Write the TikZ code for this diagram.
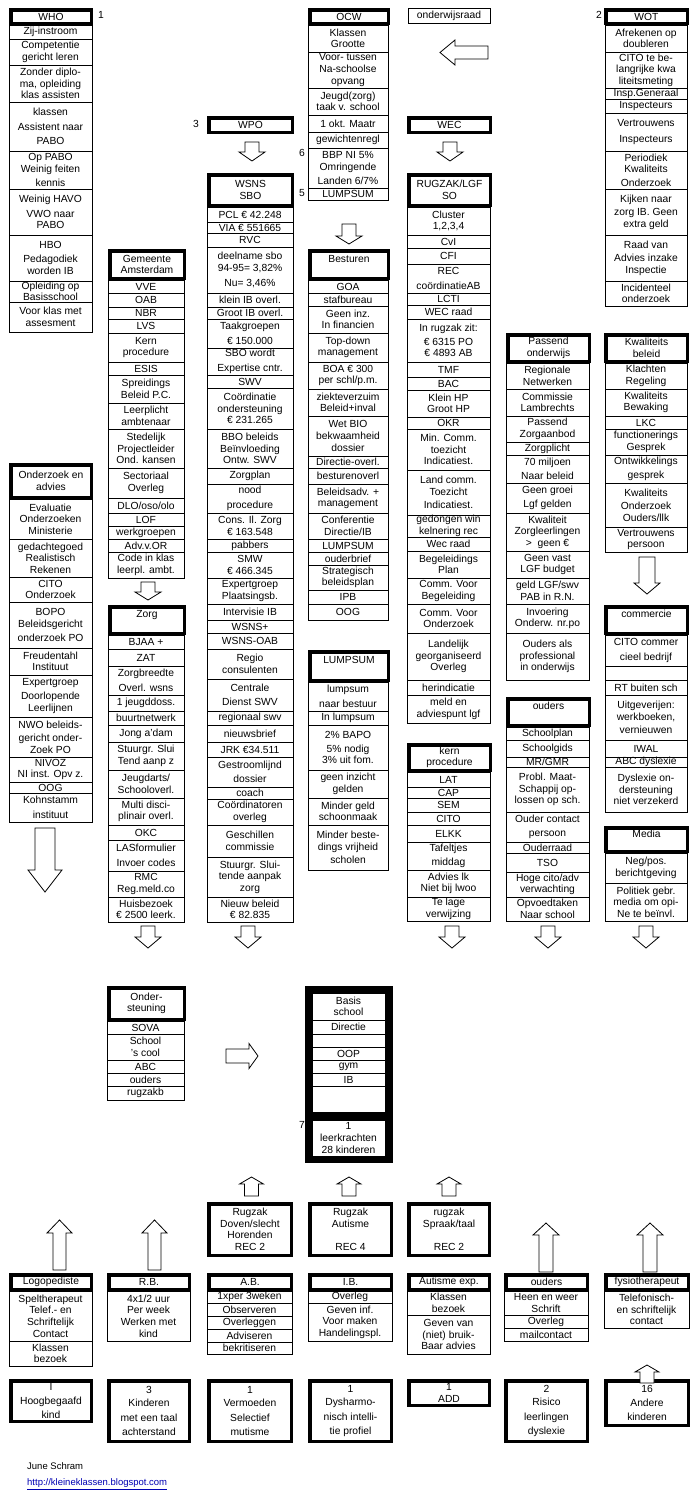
\documentclass[tikz,border=0pt]{standalone}
\usepackage{fontspec}
\setmainfont{Liberation Sans}
\begin{document}
\begin{tikzpicture}[x=1pt,y=-1pt,
  cell/.style={draw,line width=0.8pt,inner sep=0pt,outer sep=0pt,align=center,font=\fontsize{10.3}{11.6}\selectfont},
  hdr/.style={cell,line width=3.5pt},
  arr/.style={draw,line width=0.8pt,fill=white},
  lab/.style={inner sep=0pt,font=\fontsize{10.3}{12}\selectfont}]
\useasboundingbox (0,0) rectangle (700,1500);
\newcommand\cel[7][cell]{\pgfmathsetmacro\cxa{(#3+#5)/2}\pgfmathsetmacro\cya{(#4+#6)/2}%
  \pgfmathsetmacro\cwa{#5-#3}\pgfmathsetmacro\cha{#6-#4}%
  \node[#1,minimum width=\cwa pt,minimum height=\cha pt] (#2) at (\cxa,\cya) {#7};}
\newcommand\hd[6]{\pgfmathsetmacro\cxa{(#2+#4)/2}\pgfmathsetmacro\cya{(#3+#5)/2}%
  \pgfmathsetmacro\cwa{#4-#2-3.5}\pgfmathsetmacro\cha{#5-#3-3.5}%
  \node[hdr,minimum width=\cwa pt,minimum height=\cha pt] (#1) at (\cxa,\cya) {#6};}
\newcommand\stk[3]{\xdef\sxa{#1}\xdef\sxb{#2}\xdef\sy{#3}}
\newcommand\s[3]{\cel{#1}{\sxa}{\sy}{\sxb}{#2}{#3}\xdef\sy{#2}}
\newcommand\varr[6]{\draw[arr] (#1-#5,#2)--(#1+#5,#2)--(#1+#5,#3)--(#1+#6,#3)--(#1,#4)--(#1-#6,#3)--(#1-#5,#3)--cycle;}
\newcommand\harr[6]{\draw[arr] (#2,#1-#5)--(#2,#1+#5)--(#3,#1+#5)--(#3,#1+#6)--(#4,#1)--(#3,#1-#6)--(#3,#1-#5)--cycle;}

% WHO
\hd{who}{9}{8}{93}{25}{WHO}
\node[lab] (n1) at (101,15) {1};
\stk{9}{92}{25}
\s{a1}{39}{Zij-instroom}
\s{a2}{65}{Competentie\\gericht leren}
\s{a3}{102}{Zonder diplo-\\ma, opleiding\\klas assisten}
\s{a4}{151}{klassen\\[3pt]Assistent naar\\[3pt]PABO}
\s{a5}{189}{Op PABO\\Weinig feiten\\[2pt]kennis}
\s{a6}{235}{Weinig HAVO\\[3pt]VWO naar\\PABO}
\s{a7}{281}{HBO\\[2pt]Pedagodiek\\worden IB}
\s{a8}{302}{Opleiding op\\Basisschool}
\s{a9}{332}{Voor klas met\\assesment}

% OCW
\hd{ocw}{308}{8}{390}{25}{OCW}
\stk{308}{388}{25}
\s{b1}{52}{Klassen\\Grootte}
\s{b2}{88}{Voor- tussen\\Na-schoolse\\opvang}
\s{b3}{115}{Jeugd(zorg)\\taak v. school}
\s{b4}{132}{1 okt. Maatr}
\s{b5}{148}{gewichtenregl}
\s{b6}{188}{BBP NI 5\%\\Omringende\\[2pt]Landen 6/7\%}
\s{b7}{200}{LUMPSUM}
\node[lab] (n6) at (302,153) {6};
\node[lab] (n5) at (302,193) {5};

\cel{or}{408}{8}{490}{23}{onderwijsraad}
\harr{52.5}{488}{455}{440}{6.5}{12.5}

% WOT
\hd{wot}{604}{8}{689}{25}{WOT}
\node[lab] (n2) at (599,15) {2};
\stk{605}{687}{25}
\s{c1}{52}{Afrekenen op\\doubleren}
\s{c2}{88}{CITO te be-\\langrijke kwa\\liteitsmeting}
\s{c3}{99}{Insp.Generaal}
\s{c4}{113}{Inspecteurs}
\s{c5}{151}{Vertrouwens\\[4pt]Inspecteurs}
\s{c6}{189}{Periodiek\\Kwaliteits\\[2pt]Onderzoek}
\s{c7}{235}{Kijken naar\\[2pt]zorg IB. Geen\\extra geld}
\s{c8}{281}{Raad van\\[2pt]Advies inzake\\Inspectie}
\s{c9}{306}{Incidenteel\\onderzoek}

% WPO / WSNS
\hd{wpo}{207}{116}{294}{134}{WPO}
\node[lab] (n3) at (196,124) {3};
\varr{252}{142}{152}{161}{7}{13}
\hd{wsns}{207}{173}{294}{207}{WSNS\\SBO}
\stk{207}{293}{207}
\s{d1}{222}{PCL € 42.248}
\s{d2}{233}{VIA € 551665}
\s{d3}{247}{RVC}
\s{d4}{293}{deelname sbo\\94-95= 3,82\%\\[3pt]Nu= 3,46\%}
\s{d5}{307}{klein IB overl.}
\s{d6}{319}{Groot IB overl.}
\s{d7}{348}{Taakgroepen\\[3pt]€ 150.000}
\s{d8}{375}{SBO wordt\\[3pt]Expertise cntr.}
\s{d9}{388}{SWV}
\s{d10}{429}{Coördinatie\\ondersteuning\\€ 231.265}
\s{d11}{468}{BBO beleids\\Beïnvloeding\\Ontw. SWV}
\s{d12}{484}{Zorgplan}
\s{d13}{513}{nood\\[3pt]procedure}
\s{d14}{539}{Cons. Il. Zorg\\€ 163.548}
\s{d15}{552}{pabbers}
\s{d16}{578}{SMW\\€ 466.345}
\s{d17}{604}{Expertgroep\\Plaatsingsb.}
\s{d18}{620}{Intervisie IB}
\s{d19}{633}{WSNS+}
\s{d20}{649}{WSNS-OAB}
\s{d21}{679}{Regio\\consulenten}
\s{d22}{711}{Centrale\\[3pt]Dienst SWV}
\s{d23}{725}{regionaal swv}
\s{d24}{742}{nieuwsbrief}
\s{d25}{757}{JRK €34.511}
\s{d26}{787}{Gestroomlijnd\\[3pt]dossier}
\s{d27}{799}{coach}
\s{d28}{825}{Coördinatoren\\overleg}
\s{d29}{857}{Geschillen\\commissie}
\s{d30}{897}{Stuurgr. Slui-\\tende aanpak\\zorg}
\s{d31}{922}{Nieuw beleid\\€ 82.835}

% WEC / RUGZAK
\hd{wec}{407}{116}{492}{134}{WEC}
\varr{450}{142}{152}{161}{7}{13}
\hd{rug}{407}{173}{492}{207}{RUGZAK/LGF\\SO}
\stk{407}{490}{207}
\s{e1}{235}{Cluster\\1,2,3,4}
\s{e2}{248}{CvI}
\s{e3}{264}{CFI}
\s{e4}{293}{REC\\[3pt]coördinatieAB}
\s{e5}{305}{LCTI}
\s{e6}{319}{WEC raad}
\s{e7}{362}{In rugzak zit:\\[2pt]€ 6315 PO\\€ 4893 AB}
\s{e8}{377}{TMF}
\s{e9}{390}{BAC}
\s{e10}{417}{Klein HP\\Groot HP}
\s{e11}{429}{OKR}
\s{e12}{470}{Min. Comm.\\toezicht\\Indicatiest.}
\s{e13}{515}{Land comm.\\Toezicht\\[2pt]Indicatiest.}
\s{e14}{537}{gedongen win\\kelnering rec}
\s{e15}{551}{Wec raad}
\s{e16}{578}{Begeleidings\\Plan}
\s{e17}{604}{Comm. Voor\\Begeleiding}
\s{e18}{633}{Comm. Voor\\Onderzoek}
\s{e19}{680}{Landelijk\\georganiseerd\\Overleg}
\s{e20}{695}{herindicatie}
\s{e21}{723}{meld en\\adviespunt lgf}

% kern procedure
\hd{kern}{407}{743}{492}{772}{kern\\procedure}
\stk{407}{490}{772}
\s{f1}{787}{LAT}
\s{f2}{798}{CAP}
\s{f3}{812}{SEM}
\s{f4}{825}{CITO}
\s{f5}{842}{ELKK}
\s{f6}{870}{Tafeltjes\\[3pt]middag}
\s{f7}{897}{Advies lk\\Niet bij lwoo}
\s{f8}{921}{Te lage\\verwijzing}

% Gemeente
\hd{gem}{108}{249}{186}{280}{Gemeente\\Amsterdam}
\stk{108}{184}{280}
\s{g1}{293}{VVE}
\s{g2}{307}{OAB}
\s{g3}{319}{NBR}
\s{g4}{333}{LVS}
\s{g5}{362}{Kern\\procedure}
\s{g6}{375}{ESIS}
\s{g7}{403}{Spreidings\\Beleid P.C.}
\s{g8}{429}{Leerplicht\\ambtenaar}
\s{g9}{468}{Stedelijk\\Projectleider\\Ond. kansen}
\s{g10}{498}{Sectoriaal\\Overleg}
\s{g11}{513}{DLO/oso/olo}
\s{g12}{526}{LOF}
\s{g13}{539}{werkgroepen}
\s{g14}{552}{Adv.v.OR}
\s{g15}{578}{Code in klas\\leerpl. ambt.}
\varr{148}{582}{592}{600}{7}{13}

% Besturen
\varr{349}{224}{236}{244}{7}{13}
\hd{best}{308}{249}{390}{280}{Besturen\\~}
\stk{308}{388}{280}
\s{h1}{293}{GOA}
\s{h2}{306}{stafbureau}
\s{h3}{333}{Geen inz.\\In financien}
\s{h4}{362}{Top-down\\management}
\s{h5}{389}{BOA € 300\\per schl/p.m.}
\s{h6}{416}{ziekteverzuim\\Beleid+inval}
\s{h7}{456}{Wet BIO\\bekwaamheid\\dossier}
\s{h8}{468}{Directie-overl.}
\s{h9}{484}{besturenoverl}
\s{h10}{513}{Beleidsadv. +\\management}
\s{h11}{539}{Conferentie\\Directie/IB}
\s{h12}{552}{LUMPSUM}
\s{h13}{565}{ouderbrief}
\s{h14}{590}{Strategisch\\beleidsplan}
\s{h15}{604}{IPB}
\s{h16}{620}{OOG}

% Zorg
\hd{zorg}{108}{605}{186}{635}{Zorg\\~}
\stk{108}{184}{635}
\s{i1}{649}{BJAA +}
\s{i2}{666}{ZAT}
\s{i3}{695}{Zorgbreedte\\[3pt]Overl. wsns}
\s{i4}{711}{1 jeugddoss.}
\s{i5}{725}{buurtnetwerk}
\s{i6}{742}{Jong a'dam}
\s{i7}{770}{Stuurgr. Slui\\Tend aanp z}
\s{i8}{798}{Jeugdarts/\\Schooloverl.}
\s{i9}{825}{Multi disci-\\plinair overl.}
\s{i10}{840}{OKC}
\s{i11}{871}{LASformulier\\[3pt]Invoer codes}
\s{i12}{897}{RMC\\Reg.meld.co}
\s{i13}{922}{Huisbezoek\\€ 2500 leerk.}

% LUMPSUM
\hd{lump}{308}{650}{390}{682}{LUMPSUM\\~}
\stk{308}{388}{682}
\s{j1}{711}{lumpsum\\[3pt]naar bestuur}
\s{j2}{725}{In lumpsum}
\s{j3}{770}{2\% BAPO\\[2pt]5\% nodig\\3\% uit fom.}
\s{j4}{798}{geen inzicht\\gelden}
\s{j5}{825}{Minder geld\\schoonmaak}
\s{j6}{870}{Minder beste-\\dings vrijheid\\[2pt]scholen}

% Passend onderwijs
\hd{pas}{506}{333}{591}{363}{Passend\\onderwijs}
\stk{506}{589}{363}
\s{k1}{389}{Regionale\\Netwerken}
\s{k2}{416}{Commissie\\Lambrechts}
\s{k3}{442}{Passend\\Zorgaanbod}
\s{k4}{455}{Zorgplicht}
\s{k5}{483}{70 miljoen\\[3pt]Naar beleid}
\s{k6}{513}{Geen groei\\[3pt]Lgf gelden}
\s{k7}{551}{Kwaliteit\\Zorgleerlingen\\>\ \ geen €}
\s{k8}{578}{Geen vast\\LGF budget}
\s{k9}{604}{geld LGF/swv\\PAB in R.N.}
\s{k10}{633}{Invoering\\Onderw. nr.po}
\s{k11}{680}{Ouders als\\professional\\in onderwijs}

% ouders
\hd{oud}{506}{697}{591}{727}{ouders\\~}
\stk{506}{589}{727}
\s{l1}{740}{Schoolplan}
\s{l2}{757}{Schoolgids}
\s{l3}{767}{MR/GMR}
\s{l4}{812}{Probl. Maat-\\Schappij op-\\lossen op sch.}
\s{l5}{842}{Ouder contact\\[3pt]persoon}
\s{l6}{853}{Ouderraad}
\s{l7}{872}{TSO}
\s{l8}{897}{Hoge cito/adv\\verwachting}
\s{l9}{921}{Opvoedtaken\\Naar school}

% Kwaliteits beleid
\hd{kwa}{604}{333}{689}{363}{Kwaliteits\\beleid}
\stk{605}{687}{363}
\s{m1}{389}{Klachten\\Regeling}
\s{m2}{416}{Kwaliteits\\Bewaking}
\s{m3}{429}{LKC}
\s{m4}{455}{functionerings\\Gesprek}
\s{m5}{483}{Ontwikkelings\\[3pt]gesprek}
\s{m6}{527}{Kwaliteits\\[2pt]Onderzoek\\Ouders/llk}
\s{m7}{552}{Vertrouwens\\persoon}
\varr{647}{557}{583}{594}{8}{13}

% commercie
\hd{com}{604}{605}{689}{635}{commercie\\~}
\stk{605}{687}{635}
\s{o1}{666}{CITO commer\\[3pt]cieel bedrijf}
\s{o2}{680}{}
\s{o3}{695}{RT buiten sch}
\s{o4}{740}{Uitgeverijen:\\werkboeken,\\[2pt]vernieuwen}
\s{o5}{757}{IWAL}
\s{o6}{767}{ABC dyslexie}
\s{o7}{812}{Dyslexie on-\\dersteuning\\niet verzekerd}

% Media
\hd{med}{604}{826}{689}{853}{Media\\~}
\stk{605}{687}{853}
\s{p1}{883}{Neg/pos.\\berichtgeving}
\s{p2}{921}{Politiek gebr.\\media om opi-\\Ne te beïnvl.}

% Onderzoek en advies
\hd{ond}{9}{463}{93}{499}{Onderzoek en\\advies}
\stk{9}{92}{499}
\s{q1}{539}{Evaluatie\\Onderzoeken\\Ministerie}
\s{q2}{577}{gedachtegoed\\Realistisch\\Rekenen}
\s{q3}{602}{CITO\\Onderzoek}
\s{q4}{648}{BOPO\\Beleidsgericht\\[3pt]onderzoek PO}
\s{q5}{675}{Freudentahl\\Instituut}
\s{q6}{717}{Expertgroep\\[2pt]Doorlopende\\Leerlijnen}
\s{q7}{757}{NWO beleids-\\[2pt]gericht onder-\\Zoek PO}
\s{q8}{782}{NIVOZ\\NI inst. Opv z.}
\s{q9}{793}{OOG}
\s{q10}{822}{Kohnstamm\\[3pt]instituut}
\varr{45}{828}{870}{892}{10}{17}

% arrows down to lower part
\varr{148}{926}{937}{948}{7}{13}
\varr{248}{926}{937}{948}{7}{13}
\varr{452}{926}{937}{948}{7}{13}
\varr{548}{926}{937}{948}{7}{13}
\varr{646}{926}{937}{948}{7}{13}

% Ondersteuning
\hd{ost}{107}{986}{186}{1021}{Onder-\\steuning}
\stk{107}{184}{1021}
\s{r1}{1034}{SOVA}
\s{r2}{1060}{School\\'s cool}
\s{r3}{1073}{ABC}
\s{r4}{1086}{ouders}
\s{r5}{1100}{rugzakb}
\harr{1056}{226}{249}{258}{7}{12.5}

% Basisschool
\fill (305,986) rectangle (393,1163);
\cel[cell,fill=white]{bs0}{312}{993}{385}{1020}{Basis\\school}
\cel[cell,fill=white]{bs1}{312}{1020}{385}{1034}{Directie}
\cel[cell,fill=white]{bs2}{312}{1034}{385}{1047}{}
\cel[cell,fill=white]{bs3}{312}{1047}{385}{1060}{OOP}
\cel[cell,fill=white]{bs4}{312}{1060}{385}{1073}{gym}
\cel[cell,fill=white]{bs5}{312}{1073}{385}{1086}{IB}
\cel[cell,fill=white]{bs6}{312}{1086}{385}{1112}{}
\cel[cell,fill=white]{bs7}{312}{1120}{385}{1156}{1\\leerkrachten\\28 kinderen}
\node[lab] (n7) at (302,1125) {7};

% up arrows to Basisschool
\varr{251.5}{1196}{1184}{1177}{7}{12}
\varr{349}{1196}{1184}{1177}{7}{12}
\varr{449}{1196}{1184}{1177}{7}{12}

% Rugzak boxes
\hd{rz1}{207}{1202}{293}{1257}{Rugzak\\Doven/slecht\\Horenden\\REC 2}
\hd{rz2}{308}{1202}{393}{1257}{Rugzak\\Autisme\\~\\REC 4}
\hd{rz3}{407}{1202}{491}{1257}{rugzak\\Spraak/taal\\~\\REC 2}

% big up arrows
\varr{59.5}{1270}{1233}{1220}{6.5}{12.5}
\varr{154.5}{1270}{1233}{1220}{6.5}{12.5}
\varr{546}{1272}{1235}{1223}{7}{13}
\varr{650}{1272}{1235}{1223}{7}{13}

% helpers row
\hd{logo}{9}{1273}{93}{1291}{Logopediste}
\hd{rb}{107}{1273}{191}{1291}{R.B.}
\hd{ab}{207}{1273}{293}{1291}{A.B.}
\hd{ib}{308}{1273}{393}{1291}{I.B.}
\hd{aut}{407}{1273}{491}{1291}{Autisme exp.}
\hd{oud2}{504}{1273}{589}{1291}{ouders}
\hd{fys}{604}{1273}{690}{1291}{fysiotherapeut}
\stk{9}{92}{1291}
\s{s1}{1341}{Speltherapeut\\Telef.- en\\Schriftelijk\\Contact}
\s{s2}{1366}{Klassen\\bezoek}
\stk{107}{190}{1291}
\s{t1}{1341}{4x1/2 uur\\Per week\\Werken met\\kind}
\stk{207}{292}{1291}
\s{u1}{1303}{1xper 3weken}
\s{u2}{1316}{Observeren}
\s{u3}{1329}{Overleggen}
\s{u4}{1342}{Adviseren}
\s{u5}{1354}{bekritiseren}
\stk{308}{392}{1291}
\s{v1}{1303}{Overleg}
\s{v2}{1341}{Geven inf.\\Voor maken\\Handelingspl.}
\stk{407}{490}{1291}
\s{w1}{1315}{Klassen\\bezoek}
\s{w2}{1354}{Geven van\\(niet) bruik-\\Baar advies}
\stk{504}{588}{1291}
\s{x1}{1315}{Heen en weer\\Schrift}
\s{x2}{1328}{Overleg}
\s{x3}{1341}{mailcontact}
\stk{604}{689}{1291}
\s{y1}{1328}{Telefonisch-\\en schriftelijk\\contact}

% children
\hd{k1b}{9}{1379}{93}{1423}{I\\[2pt]Hoogbegaafd\\[3pt]kind}
\hd{k2b}{107}{1379}{191}{1443}{3\\[2pt]Kinderen\\[3pt]met een taal\\[3pt]achterstand}
\hd{k3b}{207}{1379}{293}{1443}{1\\[2pt]Vermoeden\\[3pt]Selectief\\[3pt]mutisme}
\hd{k4b}{308}{1379}{393}{1443}{1\\[2pt]Dysharmo-\\[3pt]nisch intelli-\\[3pt]tie profiel}
\hd{k5b}{407}{1379}{491}{1407}{1\\ADD}
\hd{k6b}{504}{1379}{589}{1443}{2\\[2pt]Risico\\[3pt]leerlingen\\[3pt]dyslexie}
\hd{k7b}{604}{1379}{690}{1427}{16\\[2pt]Andere\\[3pt]kinderen}
\varr{647}{1383}{1372}{1365}{7}{12}

\node[lab,anchor=west,font=\fontsize{9.5}{11}\selectfont] (js) at (27,1466) {June Schram};
\node[lab,anchor=west,font=\fontsize{9.5}{11}\selectfont,text=blue!70!black] (url) at (27,1483) {http://kleineklassen.blogspot.com};
\draw[blue!70!black,line width=0.6pt] ([yshift=-1.5pt]url.south west) -- ([yshift=-1.5pt]url.south east);
\end{tikzpicture}
\end{document}
